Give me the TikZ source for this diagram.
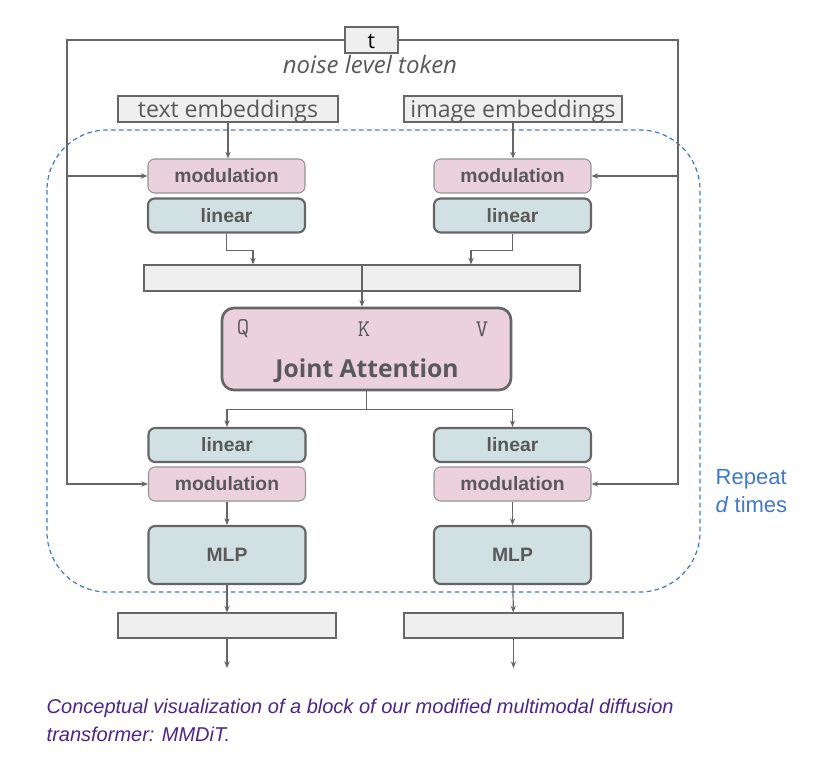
\documentclass[tikz,border=0pt]{standalone}
\usepackage{fontspec}
\setmainfont{Liberation Sans}
\newfontfamily\opensans{Open Sans}
\usetikzlibrary{arrows.meta,calc}

\definecolor{modpink}{HTML}{EAD1DC}
\definecolor{lincyan}{HTML}{D0E0E3}
\definecolor{embgray}{HTML}{EFEFEF}
\definecolor{edgegray}{HTML}{666666}
\definecolor{labelgray}{HTML}{595959}
\definecolor{repblue}{HTML}{3C78D8}
\definecolor{capviolet}{HTML}{4A2490}

\begin{document}
\begin{tikzpicture}[x=0.75pt,y=-0.75pt,
  arr/.style={draw=edgegray,line width=0.9pt,-{Stealth[length=5pt,width=4pt]}},
  modbox/.style={draw=edgegray!70,line width=0.8pt,fill=modpink,rounded corners=5pt,
    minimum width=117.75pt,minimum height=25.5pt,inner sep=0pt,
    font=\bfseries\fontsize{14.5}{16}\selectfont,text=labelgray},
  linbox/.style={modbox,draw=edgegray,line width=1.6pt,fill=lincyan},
  mlpbox/.style={linbox,minimum height=43.5pt},
  embbox/.style={draw=edgegray,line width=0.8pt,fill=embgray,inner sep=0pt,
    minimum height=19.5pt,text height=13pt,text depth=-2pt,
    font=\opensans\fontsize{17.3}{18}\selectfont,text=labelgray},
  qkv/.style={font=\ttfamily\fontsize{18}{18}\selectfont,text=labelgray},
]
\useasboundingbox (0,0) rectangle (826,763);

% repeat block
\draw[repblue,line width=0.9pt,dash pattern=on 3.5pt off 2.5pt,rounded corners=45pt]
  (47,130) rectangle (700,592);
\node[anchor=west,align=left,text=repblue,font=\fontsize{16.5}{20.5}\selectfont] (rep) at (711,491)
  {Repeat\\\textit{d} times};

% noise level token
\node[embbox,minimum width=39.75pt,font=\opensans\fontsize{16}{16}\selectfont,text=black] (tbox) at (371.5,40) {t};
\node[font=\opensans\itshape\fontsize{18}{18}\selectfont,text=labelgray] (noise) at (370,65) {noise level token};

% inputs
\node[embbox,minimum width=165pt] (textemb) at (228,109) {text embeddings};
\node[embbox,minimum width=163.5pt] (imgemb) at (513,109) {image embeddings};

\node[modbox] (mod1) at (226.5,176) {modulation};
\node[linbox] (lin1) at (226.5,215.5) {linear};
\node[modbox] (mod2) at (512.5,176) {modulation};
\node[linbox] (lin2) at (512.5,215.5) {linear};

\node[embbox,minimum width=327pt] (concat) at (362,278) {};

% joint attention
\node[modbox,draw=edgegray,line width=2pt,rounded corners=9pt,
  minimum width=216.75pt,minimum height=61.5pt] (joint) at (366.5,349) {};
\node[font=\opensans\bfseries\fontsize{18.5}{20}\selectfont,text=labelgray] (jatxt) at (367,371) {Joint Attention};
\node[qkv] (q) at (243,329) {Q};
\node[qkv] (k) at (364,329) {K};
\node[qkv] (v) at (482,329) {V};

% outputs
\node[linbox] (lin3) at (227,445) {linear};
\node[modbox] (mod3) at (227,484) {modulation};
\node[mlpbox] (mlp1) at (227,555) {MLP};
\node[linbox] (lin4) at (512.5,445) {linear};
\node[modbox] (mod4) at (512.5,484) {modulation};
\node[mlpbox] (mlp2) at (512.5,555) {MLP};

\node[embbox,minimum width=163.5pt,minimum height=18.75pt] (out1) at (227,625.5) {};
\node[embbox,minimum width=164.25pt,minimum height=18.75pt] (out2) at (513.5,625.5) {};
\coordinate (end1) at (227,668);
\coordinate (end2) at (513.5,668);

% t feeds every modulation
\coordinate (lbus) at (67,40);
\coordinate (rbus) at (678,40);
\draw[arr] (tbox.west) -- (lbus) -- (lbus |- mod3.west) -- (mod3.west);
\draw[arr] (tbox.east) -- (rbus) -- (rbus |- mod4.east) -- (mod4.east);
\draw[arr] (lbus |- mod1.west) -- (mod1.west);
\draw[arr] (rbus |- mod2.east) -- (mod2.east);

% stream wiring
\draw[arr] (textemb.south) -- (textemb.south |- mod1.north);
\draw[arr] (imgemb.south) -- (imgemb.south |- mod2.north);
\draw[arr] (lin1.south) -- ++(0,17) -| ($(concat.north)+(-109,0)$);
\draw[arr] (lin2.south) -- ++(0,17) -| ($(concat.north)+(109,0)$);
\draw[arr] (concat.north) -- (concat.north |- joint.north);
\draw[arr] (joint.south) -- ++(0,18) -| (lin3.north);
\draw[arr] (joint.south) -- ++(0,18) -| (lin4.north);
\draw[arr] (mod3) -- (mlp1);
\draw[arr] (mod4) -- (mlp2);
\draw[arr] (mlp1) -- (out1);
\draw[arr] (mlp2) -- (out2);
\draw[arr] (out1) -- (end1);
\draw[arr] (out2) -- (end2);

% caption
\node[anchor=north west,align=left,text=capviolet,
  font=\itshape\fontsize{15}{21}\selectfont] (cap) at (42,694)
  {Conceptual visualization of a block of our modified multimodal diffusion\\transformer: MMDiT.};
\end{tikzpicture}
\end{document}
